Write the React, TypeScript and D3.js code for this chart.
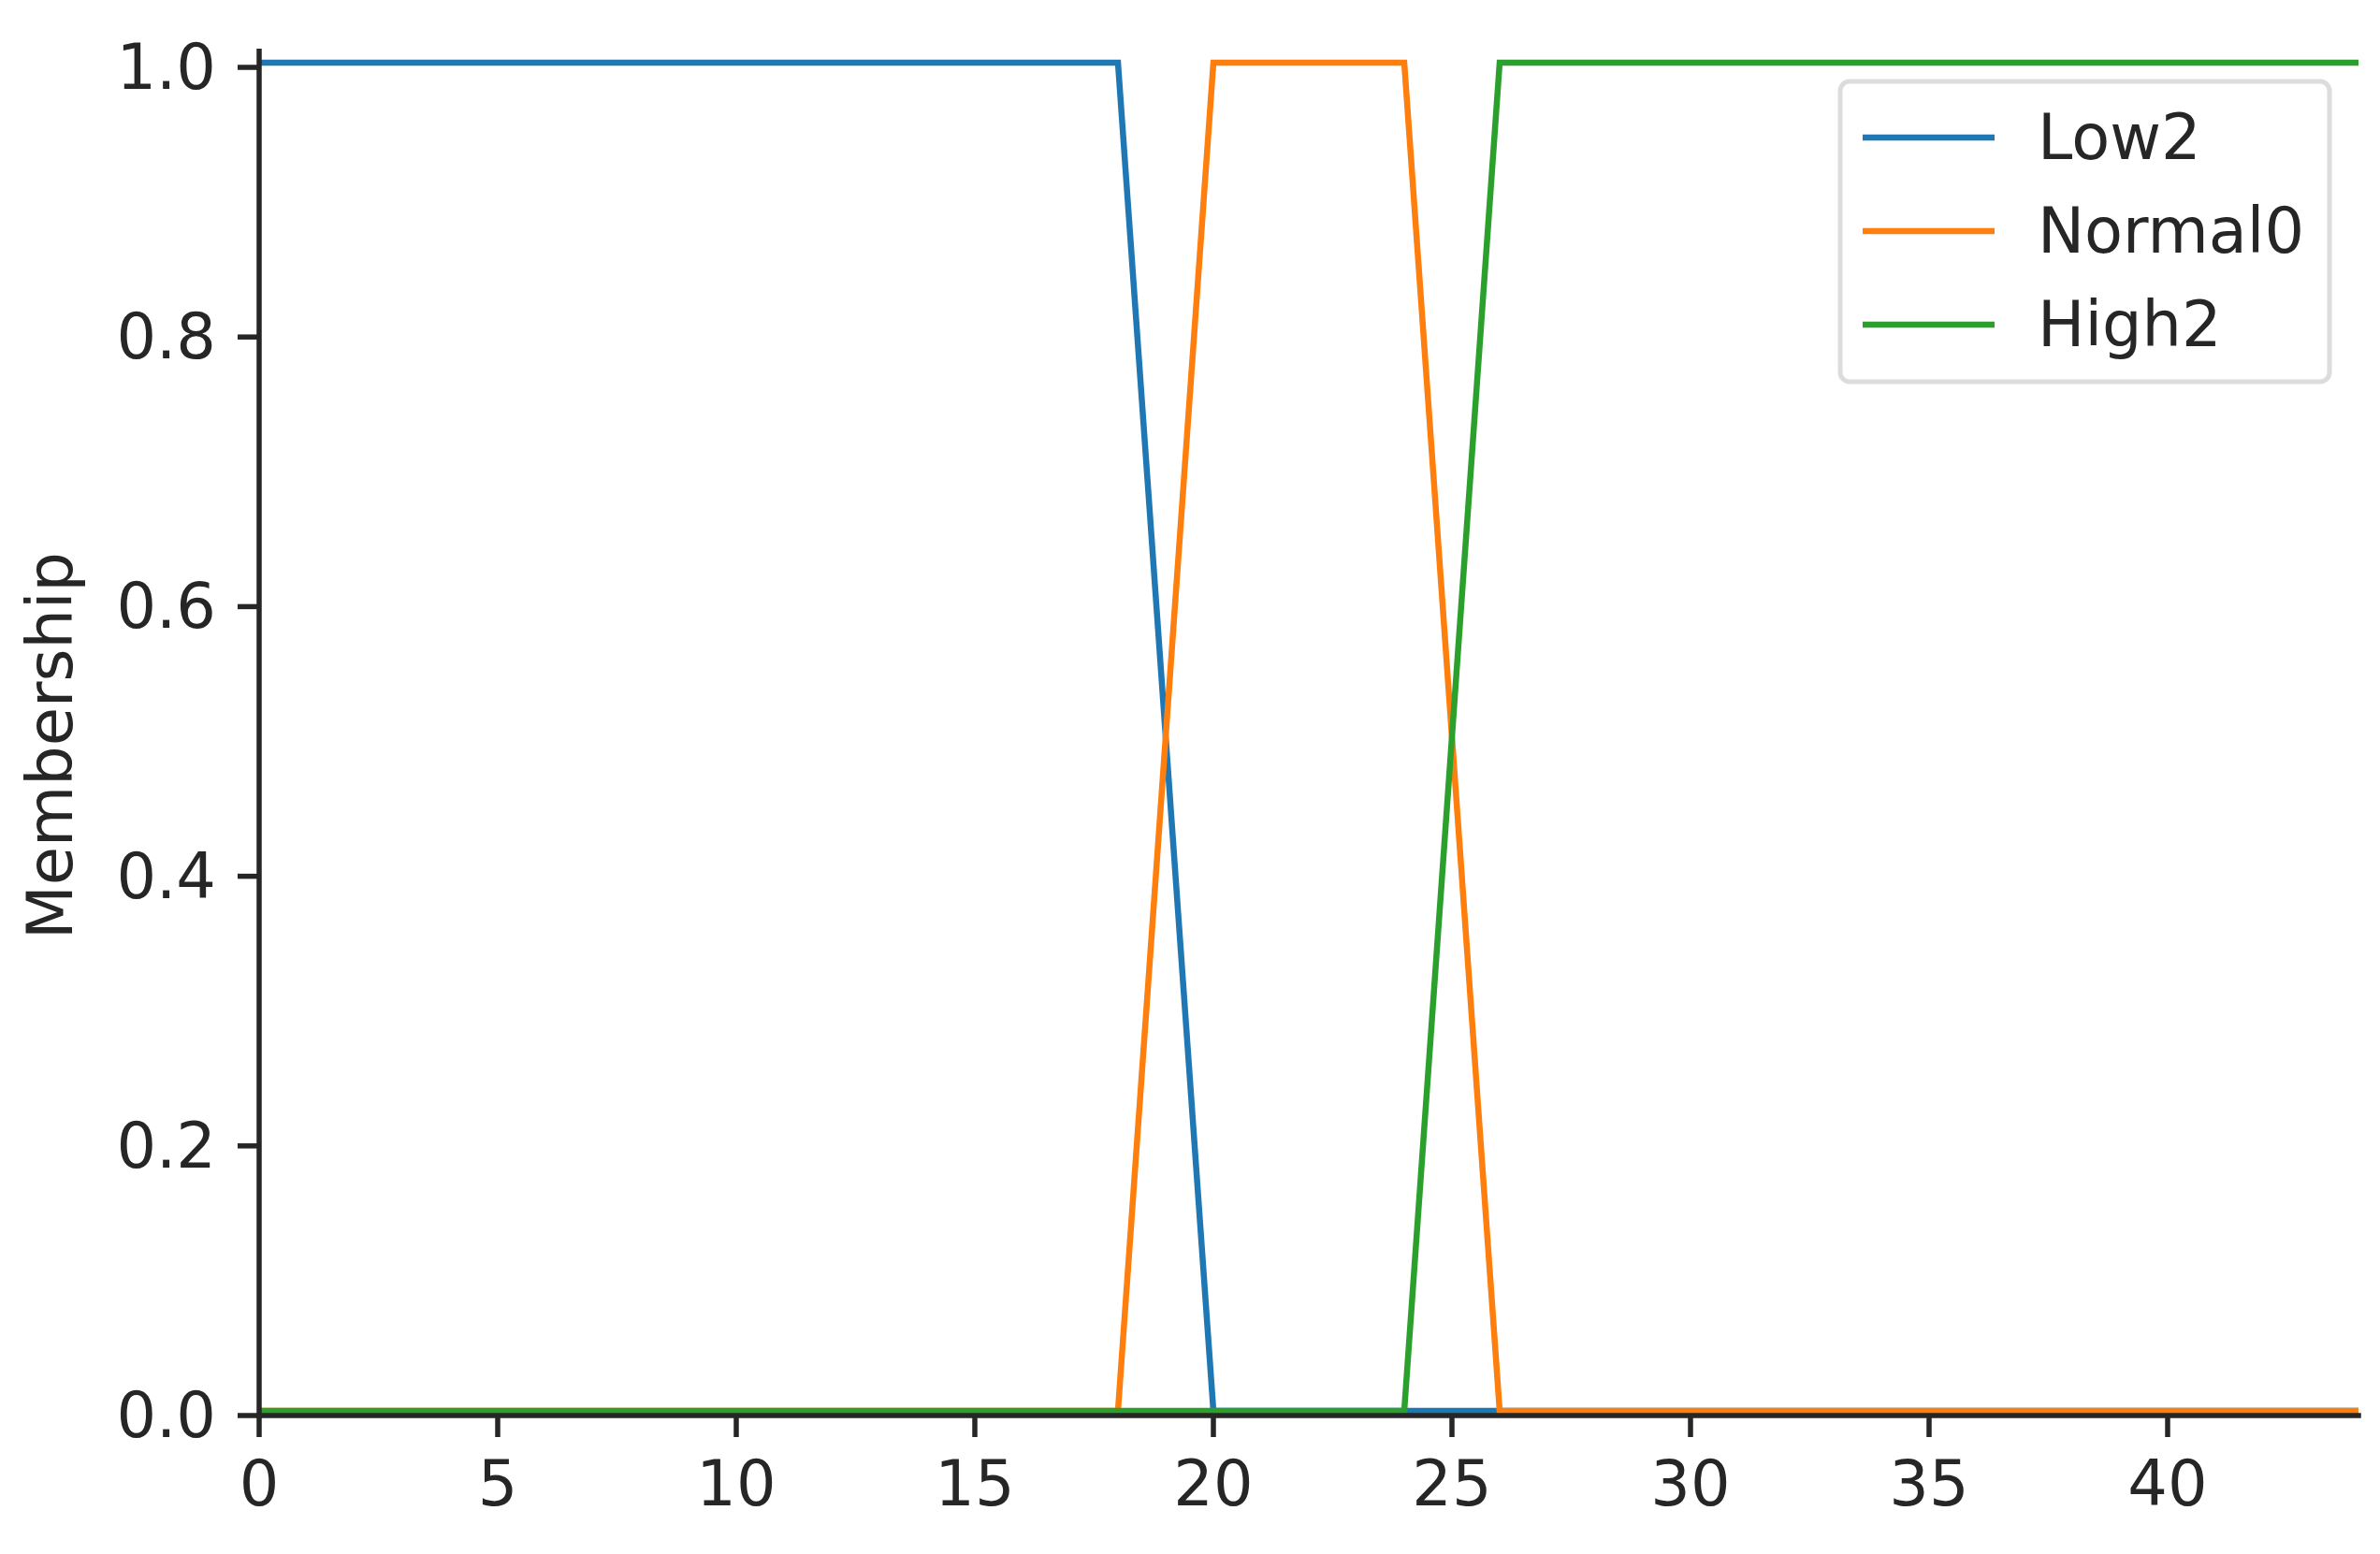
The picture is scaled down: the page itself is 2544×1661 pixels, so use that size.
import React from "react";
import * as d3 from "d3";

// membership functions, sampled at their break points
const xPoints = [0, 18, 20, 24, 26, 44];
const low2 = [1, 1, 0, 0, 0, 0];
const normal0 = [0, 0, 1, 1, 0, 0];
const high2 = [0, 0, 0, 0, 1, 1];

const seriesNames = ["Low2", "Normal0", "High2"];
const seriesColors = ["#1f77b4", "#ff7f0e", "#2ca02c"];

const xTicks = [0, 5, 10, 15, 20, 25, 30, 35, 40];
const yTicks = [0, 0.2, 0.4, 0.6, 0.8, 1.0];

const W = 2544;
const H = 1661;
const FONT = "'DejaVu Sans', sans-serif";
const INK = "#262626";

const App: React.FC = () => {
    const x = d3.scaleLinear().domain([0, 44]).range([277, 2521]);
    const y = d3.scaleLinear().domain([0, 1]).range([1513, 72]);
    const yTop = y(1.012);

    const series = [low2, normal0, high2];
    const line = d3.line<number>()
        .x((_, i) => x(xPoints[i]))
        .y(d => y(d));

    const tickLen = 23;
    const pad = 23;
    const fontSize = 67;

    const legend = { x: 1967, y: 87, w: 523, h: 321 };
    const rowY = [147, 247, 347];

    return (
        <div style={{ position: "absolute", left: 0, top: 0 }}>
            <svg width={W} height={H} style={{ display: "block", background: "#fff" }}>
                {/* data lines */}
                <g transform="translate(0,-5)" fill="none" strokeWidth={6.5} strokeLinejoin="miter">
                    {series.map((s, i) => (
                        <path key={seriesNames[i]} d={line(s) || ""} stroke={seriesColors[i]} />
                    ))}
                </g>

                {/* spines */}
                <line x1={x(0)} x2={x(0)} y1={yTop} y2={y(0)} stroke={INK} strokeWidth={5.5} strokeLinecap="square" />
                <line x1={x(0)} x2={x(44)} y1={y(0)} y2={y(0)} stroke={INK} strokeWidth={5.5} strokeLinecap="square" />

                {/* y ticks */}
                {yTicks.map(t => (
                    <g key={"y" + t}>
                        <line x1={x(0) - tickLen} x2={x(0)} y1={y(t)} y2={y(t)} stroke={INK} strokeWidth={5.5} />
                        <text
                            x={x(0) - tickLen - pad}
                            y={y(t)}
                            textAnchor="end"
                            dominantBaseline="central"
                            fontFamily={FONT}
                            fontSize={fontSize}
                            fill={INK}
                        >
                            {t.toFixed(1)}
                        </text>
                    </g>
                ))}

                {/* x ticks */}
                {xTicks.map(t => (
                    <g key={"x" + t}>
                        <line x1={x(t)} x2={x(t)} y1={y(0)} y2={y(0) + tickLen} stroke={INK} strokeWidth={5.5} />
                        <text
                            x={x(t)}
                            y={y(0) + tickLen + pad}
                            textAnchor="middle"
                            dominantBaseline="hanging"
                            fontFamily={FONT}
                            fontSize={fontSize}
                            fill={INK}
                        >
                            {t}
                        </text>
                    </g>
                ))}

                {/* y label */}
                <text
                    transform={`translate(54,797) rotate(-90)`}
                    textAnchor="middle"
                    dominantBaseline="central"
                    fontFamily={FONT}
                    fontSize={fontSize}
                    fill={INK}
                >
                    Membership
                </text>

                {/* legend */}
                <rect
                    x={legend.x}
                    y={legend.y}
                    width={legend.w}
                    height={legend.h}
                    rx={10}
                    fill="#fff"
                    fillOpacity={0.8}
                    stroke="#dcdcdc"
                    strokeWidth={5}
                />
                {seriesNames.map((name, i) => (
                    <g key={name}>
                        <line x1={1991} x2={2132} y1={rowY[i]} y2={rowY[i]} stroke={seriesColors[i]} strokeWidth={6.5} />
                        <text
                            x={2178}
                            y={rowY[i]}
                            dominantBaseline="central"
                            fontFamily={FONT}
                            fontSize={fontSize}
                            fill={INK}
                        >
                            {name}
                        </text>
                    </g>
                ))}
            </svg>
        </div>
    );
};

export default App;
